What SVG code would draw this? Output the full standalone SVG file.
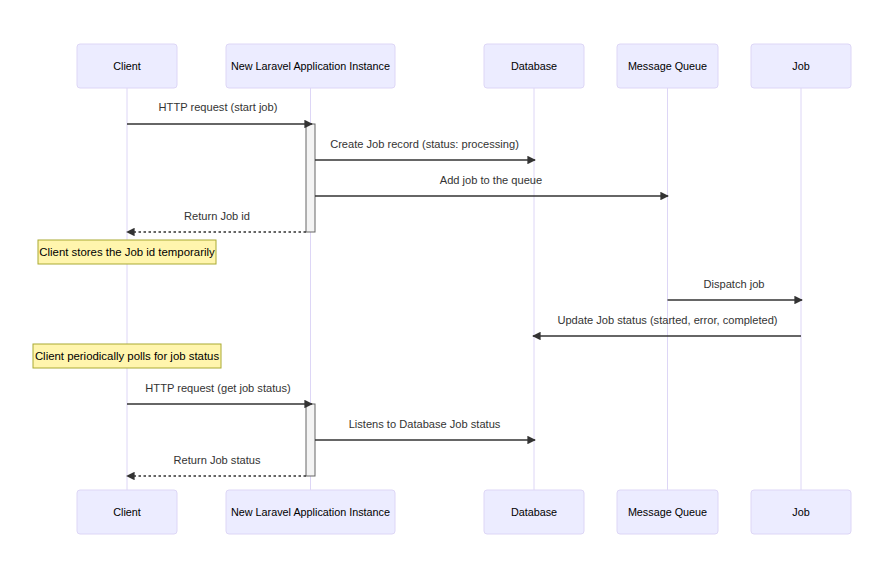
<svg xmlns="http://www.w3.org/2000/svg" width="885" height="579" viewBox="0 0 885 579">
  <style>
    text { font-family: "Liberation Sans", Arial, sans-serif; fill: #333; }
    .actor rect { fill: #ececff; stroke: #ddd6f6; stroke-width: 1; }
    .actor text { font-size: 10.8px; text-anchor: middle; dominant-baseline: central; fill: #000; }
    .lifeline { stroke: #ddd6f6; stroke-width: 1; }
    .msg { stroke: #333; stroke-width: 1.4; fill: none; }
    .dashed { stroke-dasharray: 2.5 2.5; }
    .label { font-size: 11.1px; text-anchor: middle; }
    .activation { fill: #f4f4f4; stroke: #666; stroke-width: 1; }
    .note rect { fill: #fff5ad; stroke: #aaaa33; stroke-width: 1; }
    .note text { font-size: 11.4px; text-anchor: middle; dominant-baseline: central; fill: #000; }
  </style>
  <defs>
    <marker id="arrowhead" viewBox="0 0 10 10" refX="9" refY="5" markerUnits="userSpaceOnUse" markerWidth="8.5" markerHeight="8.5" orient="auto">
      <path d="M0,0 L10,5 L0,10 z" fill="#333"/>
    </marker>
  </defs>
  <rect width="885" height="579" fill="#ffffff"/>

  <!-- lifelines -->
  <g id="lifelines">
    <line class="lifeline" x1="127" y1="88" x2="127" y2="490"/>
    <line class="lifeline" x1="310.5" y1="88" x2="310.5" y2="490"/>
    <line class="lifeline" x1="534" y1="88" x2="534" y2="490"/>
    <line class="lifeline" x1="667.5" y1="88" x2="667.5" y2="490"/>
    <line class="lifeline" x1="801" y1="88" x2="801" y2="490"/>
  </g>

  <!-- participants, top -->
  <g id="client-top" class="actor"><rect x="77" y="44" width="100" height="44" rx="3"/><text x="127" y="66">Client</text></g>
  <g id="app-top" class="actor"><rect x="226" y="44" width="169" height="44" rx="3"/><text x="310.5" y="66">New Laravel Application Instance</text></g>
  <g id="db-top" class="actor"><rect x="484" y="44" width="100" height="44" rx="3"/><text x="534" y="66">Database</text></g>
  <g id="queue-top" class="actor"><rect x="617" y="44" width="101" height="44" rx="3"/><text x="667.5" y="66">Message Queue</text></g>
  <g id="job-top" class="actor"><rect x="751" y="44" width="100" height="44" rx="3"/><text x="801" y="66">Job</text></g>

  <!-- participants, bottom -->
  <g id="client-bottom" class="actor"><rect x="77" y="490" width="100" height="44" rx="3"/><text x="127" y="512">Client</text></g>
  <g id="app-bottom" class="actor"><rect x="226" y="490" width="169" height="44" rx="3"/><text x="310.5" y="512">New Laravel Application Instance</text></g>
  <g id="db-bottom" class="actor"><rect x="484" y="490" width="100" height="44" rx="3"/><text x="534" y="512">Database</text></g>
  <g id="queue-bottom" class="actor"><rect x="617" y="490" width="101" height="44" rx="3"/><text x="667.5" y="512">Message Queue</text></g>
  <g id="job-bottom" class="actor"><rect x="751" y="490" width="100" height="44" rx="3"/><text x="801" y="512">Job</text></g>

  <!-- activations -->
  <g id="activations">
    <rect class="activation" x="306" y="124" width="9" height="108"/>
    <rect class="activation" x="306" y="404" width="9" height="72"/>
  </g>

  <!-- notes -->
  <g id="note-store" class="note"><rect x="38" y="240" width="178" height="24"/><text x="127" y="252">Client stores the Job id temporarily</text></g>
  <g id="note-poll" class="note"><rect x="33" y="344" width="188" height="24"/><text x="127" y="356">Client periodically polls for job status</text></g>

  <!-- messages -->
  <g id="messages">
    <text class="label" x="218" y="111">HTTP request (start job)</text>
    <line class="msg" x1="127" y1="124" x2="312" y2="124" marker-end="url(#arrowhead)"/>

    <text class="label" x="424.5" y="148">Create Job record (status: processing)</text>
    <line class="msg" x1="315" y1="160" x2="535" y2="160" marker-end="url(#arrowhead)"/>

    <text class="label" x="491" y="184">Add job to the queue</text>
    <line class="msg" x1="315" y1="196" x2="668" y2="196" marker-end="url(#arrowhead)"/>

    <text class="label" x="217" y="220">Return Job id</text>
    <line class="msg dashed" x1="306" y1="232" x2="127" y2="232" marker-end="url(#arrowhead)"/>

    <text class="label" x="734" y="288">Dispatch job</text>
    <line class="msg" x1="667.5" y1="300" x2="802" y2="300" marker-end="url(#arrowhead)"/>

    <text class="label" x="667.5" y="324">Update Job status (started, error, completed)</text>
    <line class="msg" x1="801" y1="336" x2="533" y2="336" marker-end="url(#arrowhead)"/>

    <text class="label" x="218" y="392">HTTP request (get job status)</text>
    <line class="msg" x1="127" y1="404" x2="312" y2="404" marker-end="url(#arrowhead)"/>

    <text class="label" x="424.5" y="428">Listens to Database Job status</text>
    <line class="msg" x1="315" y1="440" x2="535" y2="440" marker-end="url(#arrowhead)"/>

    <text class="label" x="217" y="464">Return Job status</text>
    <line class="msg dashed" x1="306" y1="476" x2="127" y2="476" marker-end="url(#arrowhead)"/>
  </g>
</svg>
